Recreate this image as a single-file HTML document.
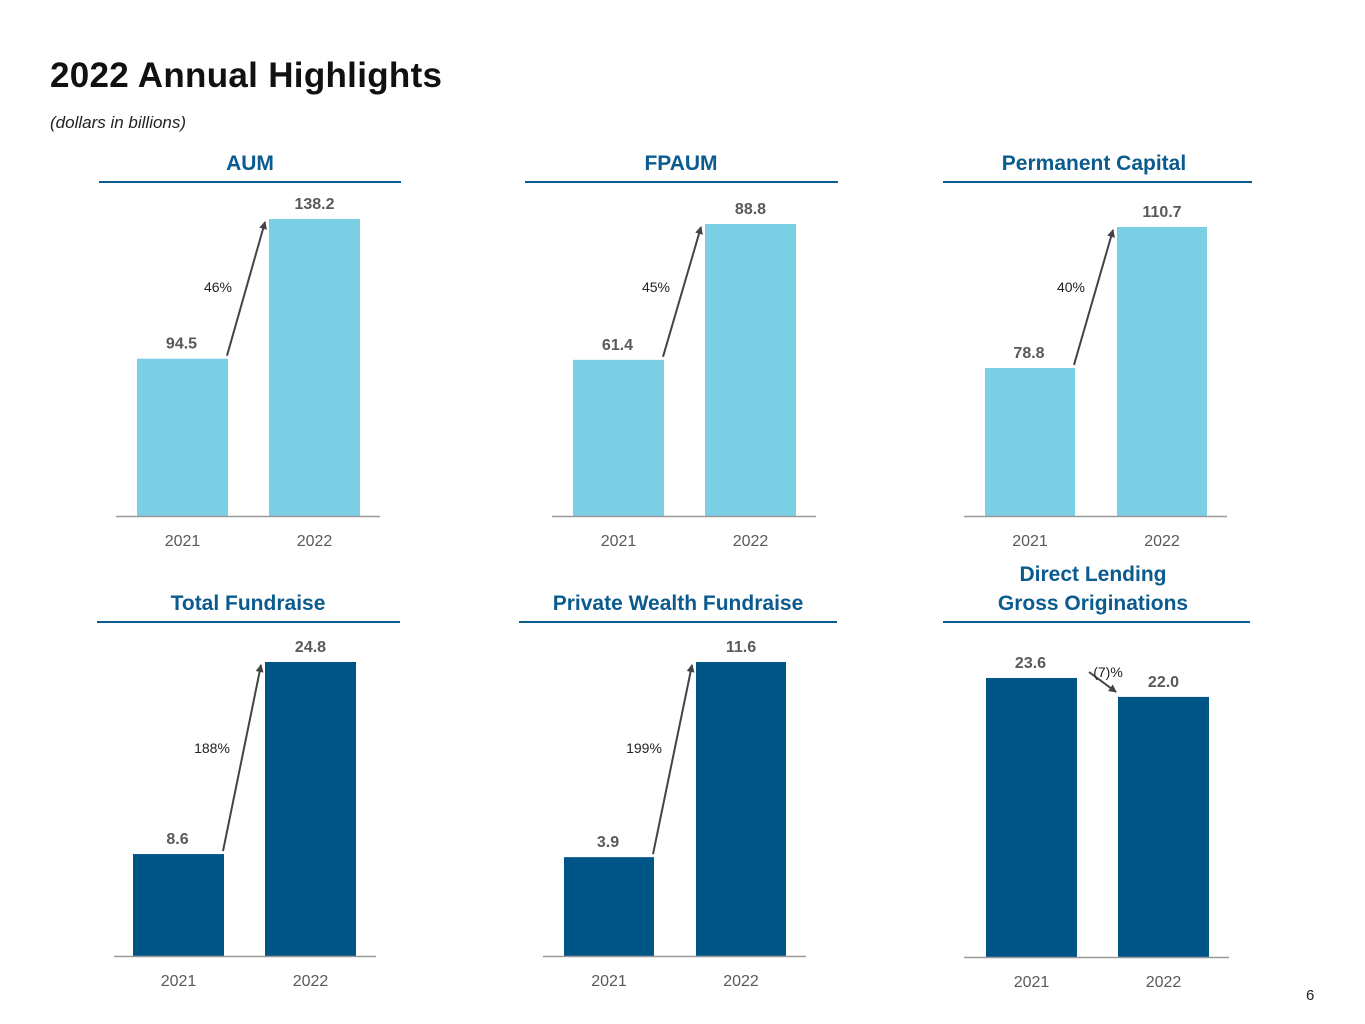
<!DOCTYPE html>
<html><head><meta charset="utf-8">
<style>
html,body{margin:0;padding:0;background:#fff;}
body{width:1365px;height:1024px;position:relative;overflow:hidden;font-family:"Liberation Sans",sans-serif;}
#title{position:absolute;left:50px;top:56px;font-size:35px;font-weight:bold;color:#111;letter-spacing:0.3px;}
#sub{position:absolute;left:50px;top:113px;font-size:17px;font-style:italic;color:#222;}
#pg{position:absolute;left:1306px;top:987px;font-size:15px;color:#222;}
svg{position:absolute;left:0;top:0;}
</style></head><body>
<div id="title">2022 Annual Highlights</div>
<div id="sub">(dollars in billions)</div>
<div id="pg">6</div>
<svg id="chart" width="1365" height="1024"></svg>
<script>
const categories = ["2021", "2022"];
const panelTitles = [["AUM"], ["FPAUM"], ["Permanent Capital"], ["Total Fundraise"], ["Private Wealth Fundraise"], ["Direct Lending", "Gross Originations"]];
const aumValues = [94.5, 138.2];
const fpaumValues = [61.4, 88.8];
const permCapValues = [78.8, 110.7];
const totalFundraiseValues = [8.6, 24.8];
const pwFundraiseValues = [3.9, 11.6];
const dlOriginationValues = [23.6, 22.0];
const valueLabels = [["94.5","138.2"],["61.4","88.8"],["78.8","110.7"],["8.6","24.8"],["3.9","11.6"],["23.6","22.0"]];
const pctLabels = ["46%", "45%", "40%", "188%", "199%", "(7)%"];

const seriesList = [aumValues, fpaumValues, permCapValues, totalFundraiseValues, pwFundraiseValues, dlOriginationValues];
const layout = [
  {axL:116,axR:380,base:516,bar0:137,bw:91,gap:132,tc:250,ty:[170],ulL:99,ulR:401,ul:182,yMin:45.3,top:219,color:"#7bcfe4",pct:[218,292]},
  {axL:552,axR:816,base:516,bar0:573,bw:91,gap:132,tc:681,ty:[170],ulL:525,ulR:838,ul:182,yMin:29.9,top:224,color:"#7bcfe4",pct:[656,292]},
  {axL:964,axR:1227,base:516,bar0:985,bw:90,gap:132,tc:1094,ty:[170],ulL:943,ulR:1252,ul:182,yMin:45.3,top:227,color:"#7bcfe4",pct:[1071,292]},
  {axL:114,axR:376,base:956,bar0:133,bw:91,gap:132,tc:248,ty:[610],ulL:97,ulR:400,ul:622,yMin:0,top:662,color:"#005587",pct:[212,753]},
  {axL:543,axR:806,base:956,bar0:564,bw:90,gap:132,tc:678,ty:[610],ulL:519,ulR:837,ul:622,yMin:0,top:662,color:"#005587",pct:[644,753]},
  {axL:964,axR:1229,base:957,bar0:986,bw:91,gap:132,tc:1093,ty:[581,610],ulL:943,ulR:1250,ul:622,yMin:0,top:678,color:"#005587",pct:[1108,677]}
];
const NS="http://www.w3.org/2000/svg";
const svg=document.getElementById("chart");
const defs=document.createElementNS(NS,"defs");
defs.innerHTML='<marker id="ah" markerWidth="8" markerHeight="8" refX="7" refY="4" orient="auto" markerUnits="userSpaceOnUse"><path d="M0,0 L8,4 L0,8 z" fill="#444"/></marker>';
svg.appendChild(defs);
function mk(tag,attrs,parent){const e=document.createElementNS(NS,tag);for(const k in attrs)e.setAttribute(k,attrs[k]);(parent||svg).appendChild(e);return e;}
seriesList.forEach((vals,i)=>{
  const L=layout[i];
  const g=mk("g",{});
  
  
  const maxV=Math.max(...vals);
  const yScale=v=>L.base-(v-L.yMin)/(maxV-L.yMin)*(L.base-L.top);
  const xPos=j=>L.bar0+j*L.gap;
  panelTitles[i].forEach((t,k)=>{
    const tx=mk("text",{x:L.tc,y:L.ty[k],"text-anchor":"middle","font-size":"21","font-weight":"bold",fill:"#0b5b8e"},g);
    tx.textContent=t;
    
    
  });
  const ul=mk("line",{x1:L.ulL,x2:L.ulR,y1:L.ul,y2:L.ul,stroke:"#0b5b8e","stroke-width":"2"},g);
  
  
  const tops=[];
  vals.forEach((v,j)=>{
    const y=yScale(v);tops.push(y);
    const r=mk("rect",{x:xPos(j),y:y,width:L.bw,height:L.base-y,fill:L.color},g);
    
    
    const vl=mk("text",{x:xPos(j)+L.bw/2-((j==0)?1:0),y:y-10,"text-anchor":"middle","font-size":"16","font-weight":"bold",fill:"#595959"},g);
    vl.textContent=valueLabels[i][j];
    
    
    const yl=mk("text",{x:xPos(j)+L.bw/2,y:L.base+30,"text-anchor":"middle","font-size":"16",fill:"#595959"},g);
    yl.textContent=categories[j];
    
    
  });
  const ax=mk("line",{x1:L.axL,x2:L.axR,y1:L.base+0.5,y2:L.base+0.5,stroke:"#999","stroke-width":"1.5"},g);
  
  
  let x1,y1,x2,y2;
  if(vals[1]>=vals[0]){x1=xPos(0)+L.bw-1;y1=tops[0]-3;x2=xPos(1)-4;y2=tops[1]+3;}
  else{x1=xPos(0)+L.bw+12;y1=tops[0]-6;x2=xPos(1)-2;y2=tops[1]-5;}
  const ar=mk("line",{x1:x1,y1:y1,x2:x2,y2:y2,stroke:"#444","stroke-width":"2","marker-end":"url(#ah)"},g);
  
  
  const pt=mk("text",{x:L.pct[0],y:L.pct[1],"text-anchor":"middle","font-size":"14",fill:"#222"},g);
  pt.textContent=pctLabels[i];
  
  
});
</script>
</body></html>
